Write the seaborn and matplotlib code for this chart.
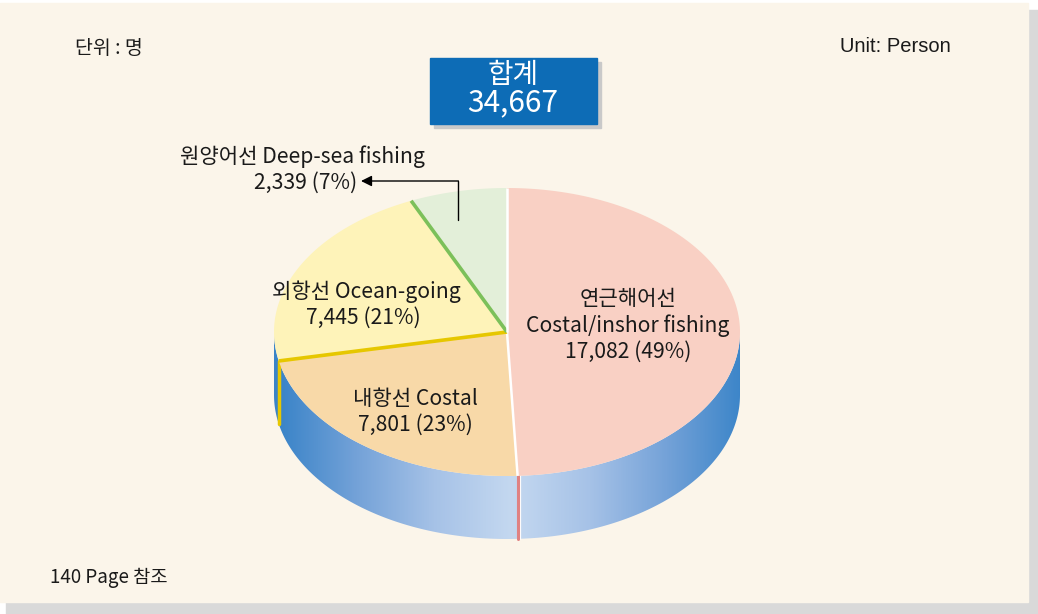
import numpy as np
import seaborn as sns
import matplotlib.pyplot as plt
from matplotlib.patches import Polygon, Rectangle, PathPatch
from matplotlib.path import Path

# data (clockwise from 12 o'clock)
kor_names = ["연근해어선", "내항선", "외항선", "원양어선"]
eng_names = ["Costal/inshor fishing", "Costal", "Ocean-going", "Deep-sea fishing"]
persons = [17082, 7801, 7445, 2339]
total_label = "합계"
unit_kor = "단위 : 명"
unit_eng = "Unit: Person"
page_note = "140 Page 참조"

top_colors = ["#F9D0C4", "#F8D9A8", "#FEF3B9", "#E3EFD9"]
edge_colors = ["white", "#E6C700", "#7CC05A", "white"]

sns.set_theme(style="white")
plt.rcParams['font.family'] = ['Noto Sans CJK KR', 'DejaVu Sans']

fig = plt.figure(figsize=(10.38, 6.14), dpi=100)
fig.patch.set_facecolor("white")
ax = fig.add_axes([0, 0, 1, 1])
ax.set_xlim(0, 1038)
ax.set_ylim(614, 0)
ax.axis("off")

# panel + shadow
ax.add_patch(Rectangle((6, 10), 1032, 604, color="#D9D9D9", zorder=0))
ax.add_patch(Rectangle((0, 3), 1028, 599, color="#FBF5EA", zorder=0))

# pie geometry
cx, cy, a, b, depth = 507, 332, 233, 144, 63


def pt(theta_deg, dy=0):
    t = np.radians(theta_deg)
    return cx + a * np.sin(t), cy - b * np.cos(t) + dy


total = sum(persons)
fracs = np.array(persons) / total
bounds = np.concatenate([[0], np.cumsum(fracs) * 360])

# side wall with gradient
th = np.linspace(90, 270, 200)
upper = [pt(t) for t in th]
lower = [pt(t, depth) for t in th[::-1]]
side_path = Path(upper + lower + [upper[0]], closed=True)
side_patch = PathPatch(side_path, facecolor="none", edgecolor="none")
ax.add_patch(side_patch)
xs = np.linspace(cx - a, cx + a, 400)
tt = 1 - np.abs(xs - (cx + 5)) / a
grad = np.tile(tt, (10, 1))
cmap = sns.blend_palette(["#3A84C8", "#74A2D8", "#A6C2E7", "#C4D8F0"], as_cmap=True)
im = ax.imshow(grad, extent=(cx - a, cx + a, cy + b + depth + 2, cy - 2),
               cmap=cmap, aspect="auto", zorder=1, vmin=0, vmax=1)
im.set_clip_path(side_patch)

# seams on the side
sx, sy = pt(bounds[1])
ax.plot([sx + 2, sx + 2], [sy, sy + depth], color="white", lw=1.6, zorder=2)
ax.plot([sx, sx], [sy, sy + depth], color="#E08282", lw=2.2, zorder=2)
yx, yy = pt(bounds[2])
ax.plot([yx, yx], [yy, yy + depth], color="#E6C700", lw=2.5, zorder=2)

# top faces
for i in range(len(persons)):
    arc = [pt(t) for t in np.linspace(bounds[i], bounds[i + 1], 120)]
    ax.add_patch(Polygon([(cx, cy)] + arc, closed=True, facecolor=top_colors[i],
                         edgecolor="none", zorder=3))

# slice separators
for i, c in enumerate(edge_colors):
    ex, ey = pt(bounds[i + 1] if i < 3 else 0)
    ax.plot([cx, ex], [cy, ey], color=c, lw=2.6 if c != "white" else 1.8, zorder=4,
            solid_capstyle="butt")

# labels
fs = 15.2
tc = "#1A1A1A"
ax.text(628, 299, kor_names[0], ha="center", va="center", fontsize=fs, color=tc, zorder=5)
ax.text(628, 326, eng_names[0], ha="center", va="center", fontsize=fs, color=tc, zorder=5)
ax.text(628, 352, f"{persons[0]:,} ({round(fracs[0] * 100)}%)", ha="center", va="center",
        fontsize=fs, color=tc, zorder=5)
ax.text(415, 399, f"{kor_names[1]} {eng_names[1]}", ha="center", va="center", fontsize=fs,
        color=tc, zorder=5)
ax.text(415, 425, f"{persons[1]:,} ({round(fracs[1] * 100)}%)", ha="center", va="center",
        fontsize=fs, color=tc, zorder=5)
ax.text(366, 292, f"{kor_names[2]} {eng_names[2]}", ha="center", va="center", fontsize=fs,
        color=tc, zorder=5)
ax.text(363, 318, f"{persons[2]:,} ({round(fracs[2] * 100)}%)", ha="center", va="center",
        fontsize=fs, color=tc, zorder=5)
ax.text(302, 157, f"{kor_names[3]} {eng_names[3]}", ha="center", va="center", fontsize=fs,
        color=tc, zorder=5)
ax.text(357, 183, f"{persons[3]:,} ({round(fracs[3] * 100)}%)", ha="right", va="center",
        fontsize=fs, color=tc, zorder=5)

# leader arrow for the small slice
ax.plot([458, 458], [220, 181], color="black", lw=1.0, zorder=5)
ax.annotate("", xy=(361, 181), xytext=(458.4, 181),
            arrowprops=dict(arrowstyle="-|>", color="black", lw=1.0, mutation_scale=16,
                            shrinkA=0, shrinkB=0), zorder=5)

# total box
ax.add_patch(Rectangle((434, 62), 167, 66, color="#C9C9C9", zorder=4))
ax.add_patch(Rectangle((430, 58), 167, 66, color="#0D6CB6", zorder=5))
ax.text(513, 75, total_label, ha="center", va="center", fontsize=20, color="white", zorder=6)
ax.text(513, 103, f"{total:,}", ha="center", va="center", fontsize=21.5, color="white", zorder=6)

# unit + note
ax.text(75, 48, unit_kor, ha="left", va="center", fontsize=14, color=tc, zorder=5)
ax.text(951, 47, unit_eng, ha="right", va="center", fontsize=14.5, family=["Liberation Sans"],
        color=tc, zorder=5)
ax.text(50, 577, page_note, ha="left", va="center", fontsize=13.5, color=tc, zorder=5)

fig.savefig("out.png", dpi=100)
